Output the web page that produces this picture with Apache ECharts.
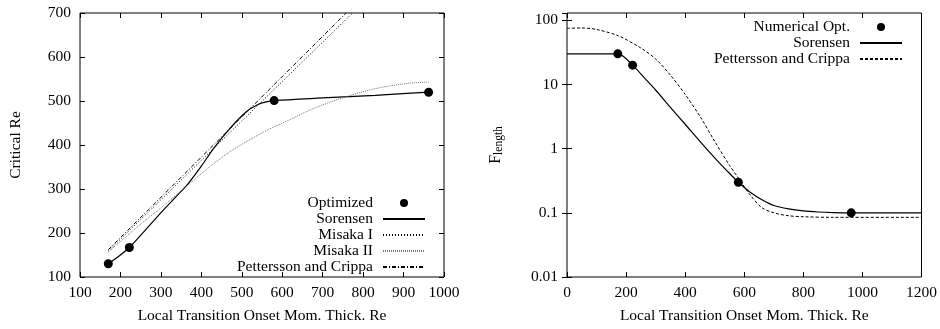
<!DOCTYPE html>
<html>
<head>
<meta charset="utf-8">
<script src="https://cdn.jsdelivr.net/npm/echarts@6/dist/echarts.min.js"></script>
<style>html,body{margin:0;padding:0;background:#fff}#c{width:940px;height:329px}</style>
</head>
<body>
<div id="c"></div>
<script>
// ---- Left panel data ----
const leftXTicks = [100, 200, 300, 400, 500, 600, 700, 800, 900, 1000];
const leftYTicks = [100, 200, 300, 400, 500, 600, 700];
const optX = [170, 222, 580, 962];
const optY = [130, 167, 501, 520];
const sorLX = [170, 190, 222, 260, 306, 340, 368, 400, 430, 471, 512, 540, 560, 580, 700, 830, 962];
const sorLY = [130, 143, 167, 205, 252, 285, 313, 352, 392, 438, 476, 492, 498, 501, 507, 513, 520];
const mis1X = [170, 774];
const mis1Y = [159, 700];
const mis2X = [170, 250, 300, 368, 420, 471, 520, 570, 620, 670, 720, 770, 820, 870, 920, 962];
const mis2Y = [157, 220, 257, 310, 350, 385, 412, 437, 458, 480, 498, 513, 526, 535, 541, 543];
const pcLX = [170, 758];
const pcLY = [162, 700];

// ---- Right panel data ----
const rightXTicks = [0, 200, 400, 600, 800, 1000, 1200];
const rightYTicks = [0.01, 0.1, 1, 10, 100];
const numX = [172, 222, 580, 962];
const numY = [30, 20, 0.3, 0.1];
const sorRX = [0, 172, 222, 260, 300, 350, 400, 450, 500, 540, 580, 620, 660, 700, 750, 800, 850, 900, 962, 1200];
const sorRY = [30, 30, 20, 13, 8.2, 4.4, 2.4, 1.3, 0.72, 0.46, 0.30, 0.21, 0.16, 0.13, 0.115, 0.107, 0.103, 0.101, 0.1, 0.1];
const pcRX = [0, 50, 100, 175, 250, 300, 350, 400, 450, 500, 550, 580, 620, 660, 700, 750, 800, 900, 1200];
const pcRY = [75, 76, 72, 57, 37, 25, 14, 7, 3.2, 1.3, 0.55, 0.35, 0.19, 0.12, 0.1, 0.09, 0.087, 0.085, 0.085];

const zip = (xs, ys) => xs.map((x, i) => [x, ys[i]]);
const FONT = 'Liberation Serif';
const FS = 15.5;
const txt = {fontFamily: FONT, fontSize: FS, color: '#000'};

function xAx(gi, min, max, interval, show, pos) {
  return {
    type: 'value', gridIndex: gi, min, max, interval, position: pos,
    axisLine: {show: false},
    axisTick: {show: true, inside: true, length: 5, lineStyle: {color: '#000'}},
    axisLabel: {show: show, ...txt, margin: 8, formatter: v => String(v)},
    splitLine: {show: false},
    name: show ? 'Local Transition Onset Mom. Thick. Re' : '',
    nameLocation: 'middle', nameGap: 31, nameTextStyle: {...txt}
  };
}

const lineItem = n => ({name: n, itemStyle: {opacity: 0}});
const dotItem = n => ({name: n, itemStyle: {opacity: 1, color: '#000'}});

const option = {
  animation: false,
  backgroundColor: '#fff',
  grid: [
    {left: 80, top: 13, width: 364, height: 264, show: true, borderColor: '#000', borderWidth: 1},
    {left: 567, top: 13, width: 355, height: 264, show: true, borderColor: '#000', borderWidth: 1}
  ],
  xAxis: [
    xAx(0, leftXTicks[0], leftXTicks[leftXTicks.length - 1], 100, true, 'bottom'),
    xAx(0, leftXTicks[0], leftXTicks[leftXTicks.length - 1], 100, false, 'top'),
    xAx(1, rightXTicks[0], rightXTicks[rightXTicks.length - 1], 200, true, 'bottom'),
    xAx(1, rightXTicks[0], rightXTicks[rightXTicks.length - 1], 200, false, 'top')
  ],
  yAxis: [
    {
      type: 'value', gridIndex: 0, min: leftYTicks[0], max: leftYTicks[leftYTicks.length - 1], interval: 100, position: 'left',
      axisLine: {show: false},
      axisTick: {show: true, inside: true, length: 5, lineStyle: {color: '#000'}},
      axisLabel: {...txt, margin: 9}, splitLine: {show: false},
      name: 'Critical Re', nameLocation: 'middle', nameGap: 56, nameTextStyle: {...txt}
    },
    {
      type: 'value', gridIndex: 0, min: leftYTicks[0], max: leftYTicks[leftYTicks.length - 1], interval: 100, position: 'right',
      axisLine: {show: false},
      axisTick: {show: true, inside: true, length: 5, lineStyle: {color: '#000'}},
      axisLabel: {show: false}, splitLine: {show: false}
    },
    {
      type: 'log', logBase: 10, gridIndex: 1, min: 0.01, max: 130, position: 'left',
      axisLine: {show: false},
      axisTick: {show: true, inside: true, length: 5, lineStyle: {color: '#000'}},
      axisLabel: {...txt, margin: 9, showMaxLabel: false,
        formatter: v => {
          const l = Math.log10(v);
          if (Math.abs(l - Math.round(l)) > 1e-6) return '';
          const r = Math.round(l);
          return r >= 0 ? String(Math.pow(10, r)) : (Math.pow(10, r)).toFixed(-r);
        }},
      splitLine: {show: false},
      name: '{a|F}{b|length}', nameLocation: 'middle', nameGap: 62,
      nameTextStyle: {...txt, rich: {
        a: {fontFamily: FONT, fontSize: 16, color: '#000', verticalAlign: 'top', lineHeight: 17},
        b: {fontFamily: FONT, fontSize: 11.5, color: '#000', verticalAlign: 'bottom', lineHeight: 12, padding: [8, 0, 0, 0]}
      }}
    },
    {
      type: 'log', logBase: 10, gridIndex: 1, min: 0.01, max: 130, position: 'right',
      axisLine: {show: false},
      axisTick: {show: true, inside: true, length: 5, lineStyle: {color: '#000'}},
      axisLabel: {show: false}, splitLine: {show: false}
    }
  ],
  legend: [
    {
      orient: 'vertical', align: 'right', right: 509, bottom: 49,
      itemWidth: 42, itemHeight: 8, itemGap: 0,
      textStyle: {...txt, padding: [0, 5, 0, 0]},
      formatter: n => n.trim(),
      data: [dotItem('Optimized'), lineItem('Sorensen'), lineItem('Misaka I'), lineItem('Misaka II'), lineItem('Pettersson and Crippa')]
    },
    {
      orient: 'vertical', align: 'right', right: 32, top: 14,
      itemWidth: 42, itemHeight: 8, itemGap: 0,
      textStyle: {...txt, padding: [0, 5, 0, 0]},
      formatter: n => n.trim(),
      data: [dotItem('Numerical Opt.'), lineItem('Sorensen '), lineItem('Pettersson and Crippa ')]
    }
  ],
  series: [
    {name: 'Sorensen', type: 'line', xAxisIndex: 0, yAxisIndex: 0, data: zip(sorLX, sorLY), symbol: 'none', smooth: 0.3,
     lineStyle: {color: '#000', width: 1.2}, itemStyle: {color: '#000'}},
    {name: 'Misaka I', type: 'line', xAxisIndex: 0, yAxisIndex: 0, data: zip(mis1X, mis1Y), symbol: 'none',
     lineStyle: {color: '#000', width: 1, type: [1, 2]}, itemStyle: {color: '#000'}},
    {name: 'Misaka II', type: 'line', xAxisIndex: 0, yAxisIndex: 0, data: zip(mis2X, mis2Y), symbol: 'none', smooth: 0.3,
     lineStyle: {color: '#777', width: 1, type: [1, 1]}, itemStyle: {color: '#777'}},
    {name: 'Pettersson and Crippa', type: 'line', xAxisIndex: 0, yAxisIndex: 0, data: zip(pcLX, pcLY), symbol: 'none',
     lineStyle: {color: '#000', width: 1, type: [4, 2, 1, 2]}, itemStyle: {color: '#000'}},
    {name: 'Optimized', type: 'scatter', xAxisIndex: 0, yAxisIndex: 0, data: zip(optX, optY), symbol: 'circle', symbolSize: 9,
     itemStyle: {color: '#000', opacity: 1}, z: 5},

    {name: 'Sorensen ', type: 'line', xAxisIndex: 2, yAxisIndex: 2, data: zip(sorRX, sorRY), symbol: 'none', smooth: 0.3,
     lineStyle: {color: '#000', width: 1.2}, itemStyle: {color: '#000'}},
    {name: 'Pettersson and Crippa ', type: 'line', xAxisIndex: 2, yAxisIndex: 2, data: zip(pcRX, pcRY), symbol: 'none', smooth: 0.3,
     lineStyle: {color: '#000', width: 1, type: [3, 2]}, itemStyle: {color: '#000'}},
    {name: 'Numerical Opt.', type: 'scatter', xAxisIndex: 2, yAxisIndex: 2, data: zip(numX, numY), symbol: 'circle', symbolSize: 9,
     itemStyle: {color: '#000', opacity: 1}, z: 5}
  ]
};

const chart = echarts.init(document.getElementById('c'), null, {renderer: 'canvas'});
chart.setOption(option);
</script>
</body>
</html>
